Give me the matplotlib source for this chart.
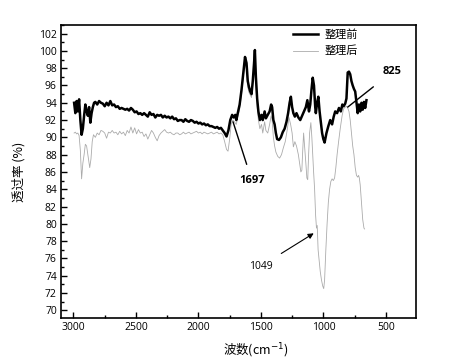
import matplotlib
matplotlib.use("Agg")
import matplotlib.pyplot as plt
from matplotlib.ticker import MultipleLocator

plt.rcParams['font.family'] = ['Open Sans', 'Noto Sans CJK SC', 'DejaVu Sans']

# 整理前 (before finishing)
before_wn = [2995, 2985, 2975, 2965, 2955, 2945, 2935, 2925, 2915, 2905, 2895, 2885, 2875, 2865,
             2855, 2845, 2835, 2825, 2810, 2795, 2780, 2765, 2750, 2735, 2720, 2705, 2690, 2675,
             2660, 2645, 2630, 2615, 2600, 2585, 2570, 2555, 2540, 2525, 2510, 2495, 2480, 2465,
             2450, 2435, 2420, 2405, 2390, 2375, 2360, 2345, 2330, 2315, 2300, 2285, 2270, 2255,
             2240, 2225, 2210, 2195, 2180, 2165, 2150, 2135, 2120, 2105, 2090, 2075, 2060, 2045,
             2030, 2015, 2000, 1985, 1970, 1955, 1940, 1925, 1910, 1895, 1880, 1865, 1850, 1835,
             1820, 1805, 1790, 1775, 1760, 1745, 1730, 1718, 1705, 1697, 1685, 1670, 1655, 1640,
             1627, 1615, 1605, 1595, 1585, 1575, 1565, 1555, 1548, 1540, 1530, 1520, 1508, 1495,
             1485, 1470, 1460, 1445, 1430, 1418, 1410, 1400, 1390, 1380, 1370, 1355, 1340, 1325,
             1310, 1295, 1282, 1270, 1260, 1250, 1240, 1228, 1215, 1200, 1185, 1170, 1155, 1140,
             1128, 1115, 1105, 1095, 1085, 1075, 1065, 1060, 1050, 1040, 1030, 1020, 1010, 1000,
             990, 975, 960, 945, 930, 917, 905, 890, 875, 860, 848, 838, 825, 815, 805, 795, 785,
             775, 765, 755, 745, 735, 725, 715, 705, 695, 685, 675, 665, 655]
before_t = [94.0, 92.8, 94.2, 93.0, 94.4, 92.0, 90.3, 91.0, 92.5, 93.8, 93.0, 92.5, 93.5, 91.7,
            92.8, 93.5, 94.0, 94.1, 93.8, 94.2, 94.0, 93.9, 93.6, 94.0, 93.7, 94.2, 93.7, 93.8,
            93.5, 93.6, 93.3, 93.4, 93.3, 93.2, 93.3, 93.1, 93.4, 93.2, 92.9, 93.0, 92.7, 92.8,
            92.6, 92.8, 92.6, 92.4, 92.9, 92.6, 92.7, 92.3, 92.6, 92.5, 92.6, 92.3, 92.5, 92.3,
            92.4, 92.2, 92.4, 92.1, 92.2, 91.9, 92.0, 92.0, 91.8, 92.1, 91.9, 91.8, 92.0, 91.9,
            91.7, 91.8, 91.6, 91.7, 91.5, 91.6, 91.4, 91.5, 91.3, 91.3, 91.2, 91.1, 91.2, 91.0,
            91.1, 90.8, 90.5, 90.1, 90.8, 92.0, 92.6, 92.3, 92.6, 92.0, 92.8, 93.8, 95.5, 97.5,
            99.3, 98.6, 96.5, 95.8, 95.3, 95.0, 96.5, 98.5, 100.1, 97.0, 94.5, 93.0, 92.0, 92.6,
            92.0, 93.0, 92.2, 92.6, 93.0, 93.8, 93.5, 92.0, 91.5, 90.5, 89.8, 89.7, 90.0, 90.6,
            91.0, 91.8, 92.8, 94.0, 94.7, 93.5, 92.8, 92.4, 92.8, 92.3, 92.0, 92.5, 93.0, 93.5,
            94.3, 93.0, 93.8, 95.5, 96.9, 96.0, 93.5, 92.8, 94.0, 94.7, 93.0, 91.8, 90.5, 89.8,
            89.4, 90.5, 91.3, 92.0, 91.5, 92.4, 93.0, 92.8, 93.4, 93.0, 93.8, 93.6, 93.9, 94.5,
            97.5, 97.6, 97.3, 96.5, 96.0, 95.6, 95.3, 94.0, 92.8, 93.8, 93.0, 94.0, 93.2, 94.1,
            93.4, 94.3]

# 整理后 (after finishing)
after_wn = [2995, 2985, 2975, 2965, 2955, 2945, 2935, 2925, 2915, 2905, 2895, 2885, 2870, 2860,
            2850, 2840, 2825, 2810, 2795, 2780, 2765, 2750, 2735, 2720, 2705, 2690, 2675, 2660,
            2645, 2630, 2615, 2600, 2585, 2570, 2555, 2540, 2525, 2510, 2495, 2480, 2465, 2450,
            2435, 2420, 2405, 2390, 2375, 2360, 2345, 2330, 2315, 2300, 2285, 2270, 2255, 2240,
            2225, 2210, 2195, 2180, 2165, 2150, 2135, 2120, 2105, 2090, 2075, 2060, 2045, 2030,
            2015, 2000, 1985, 1970, 1955, 1940, 1925, 1910, 1895, 1880, 1865, 1850, 1835, 1820,
            1805, 1790, 1775, 1763, 1750, 1738, 1725, 1712, 1697, 1685, 1670, 1655, 1640, 1627,
            1615, 1605, 1595, 1585, 1575, 1565, 1555, 1548, 1540, 1530, 1520, 1508, 1495, 1485,
            1470, 1460, 1445, 1430, 1418, 1410, 1400, 1390, 1380, 1365, 1350, 1335, 1320, 1305,
            1290, 1275, 1262, 1250, 1240, 1228, 1215, 1200, 1190, 1180, 1172, 1165, 1158, 1150,
            1140, 1132, 1125, 1118, 1110, 1100, 1092, 1085, 1078, 1070, 1062, 1055, 1049, 1042,
            1035, 1025, 1015, 1005, 997, 990, 980, 970, 960, 950, 940, 930, 920, 910, 900, 890,
            878, 865, 850, 838, 825, 815, 805, 795, 785, 775, 765, 755, 745, 735, 725, 718, 712,
            705, 695, 685, 675, 670]
after_t = [90.5, 90.6, 90.4, 90.5, 90.2, 88.5, 85.2, 87.0, 88.0, 89.2, 89.0, 88.0, 86.5, 87.5,
           89.5, 90.3, 90.0, 90.5, 90.3, 90.8, 90.7, 90.5, 89.9, 90.6, 90.5, 90.8, 90.5, 90.6,
           90.3, 90.7, 90.4, 90.6, 90.2, 90.8, 90.5, 91.2, 90.5, 91.1, 90.4, 90.9, 90.5, 90.6,
           90.1, 90.4, 89.8, 90.3, 90.8, 90.5, 90.0, 89.6, 90.2, 90.5, 90.7, 90.9, 90.6, 90.5,
           90.6, 90.4, 90.3, 90.5, 90.5, 90.3, 90.4, 90.6, 90.4, 90.5, 90.6, 90.4, 90.5, 90.6,
           90.7, 90.5, 90.6, 90.4, 90.6, 90.5, 90.4, 90.5, 90.6, 90.4, 90.5, 90.6, 90.4, 90.5,
           90.3, 89.5, 88.6, 88.4, 89.8, 91.5, 92.0, 91.8, 91.5, 92.3, 93.3, 95.0, 97.0, 98.8,
           97.8, 95.8, 95.2, 94.9, 94.6, 96.0, 98.0, 99.5, 96.0, 93.5, 92.0, 91.0, 91.5, 90.5,
           91.8, 90.8, 90.5, 91.5, 92.5, 92.0, 90.0, 89.0, 88.3, 87.8, 87.6, 88.0, 88.8, 89.5,
           90.8, 92.3, 91.5, 90.5, 88.9, 89.5, 89.0, 88.0, 87.0, 86.0, 86.2, 88.5, 90.5, 89.0,
           87.0, 85.3, 85.1, 88.0, 90.5, 91.7, 90.0, 88.0, 86.0, 84.0, 81.0, 79.5, 79.8, 77.0,
           76.0, 74.5, 73.5, 72.8, 72.5, 73.5, 77.0, 80.0, 82.5, 84.0, 84.9, 85.2, 85.0, 85.3,
           86.5, 88.0, 89.5, 91.0, 92.5, 93.3, 93.5, 93.6, 93.4, 93.0, 92.0, 90.5, 89.0, 88.0,
           86.5, 85.6, 85.4, 85.6, 85.3, 84.5, 82.5, 80.5, 79.5, 79.4]

labels = ['整理前', '整理后']

fig = plt.figure(figsize=(4.62, 3.62), dpi=100)
ax = fig.add_axes([0.132, 0.1215, 0.768, 0.8095])

ax.plot(after_wn, after_t, color='#ababab', lw=0.6, label=labels[1], zorder=2)
ax.plot(before_wn, before_t, color='black', lw=1.8, label=labels[0], zorder=3)

ax.set_xlim(3100, 260)
ax.set_ylim(69.1, 103.0)
ax.xaxis.set_major_locator(MultipleLocator(500))
ax.xaxis.set_minor_locator(MultipleLocator(250))
ax.yaxis.set_major_locator(MultipleLocator(2))
ax.yaxis.set_minor_locator(MultipleLocator(1))
ax.tick_params(which='both', direction='in', top=False, right=False, labelsize=7.5, width=1)
ax.tick_params(which='major', length=4, pad=3)
ax.tick_params(which='minor', length=2)
for s in ax.spines.values():
    s.set_linewidth(1.2)

ax.set_xlabel('波数(cm$^{-1}$)', fontsize=9, family=['Noto Sans CJK SC', 'DejaVu Sans'],
              va='center')
ax.xaxis.set_label_coords(0.55, -0.11)
ax.set_ylabel('透过率 (%)', fontsize=9, family=['Noto Sans CJK SC', 'DejaVu Sans'], labelpad=10)

handles, hl = ax.get_legend_handles_labels()
leg = ax.legend(handles[::-1], hl[::-1], loc='upper left', bbox_to_anchor=(0.625, 1.02),
                frameon=False, handlelength=2.3, handletextpad=0.6, labelspacing=0.55,
                prop={'family': ['Noto Sans CJK SC', 'DejaVu Sans'], 'size': 8})

# peak annotations
ax.annotate('1697', xy=(1723, 91.8), xytext=(1572, 85.0), fontsize=8, fontweight='bold',
            ha='center', va='center',
            arrowprops=dict(arrowstyle='-', color='black', lw=1.0, shrinkB=0, shrinkA=6))
ax.annotate('825', xy=(805, 93.5), xytext=(446, 97.6), fontsize=8, fontweight='bold',
            ha='center', va='center',
            arrowprops=dict(arrowstyle='-', color='black', lw=1.0, shrinkB=0, shrinkA=8))
ax.annotate('1049', xy=(1077, 78.9), xytext=(1500, 75.1), fontsize=7.5,
            ha='center', va='center',
            arrowprops=dict(arrowstyle='-|>', color='black', lw=0.8, mutation_scale=8,
                            shrinkB=0, shrinkA=6))

fig.savefig('out.png', dpi=100)
